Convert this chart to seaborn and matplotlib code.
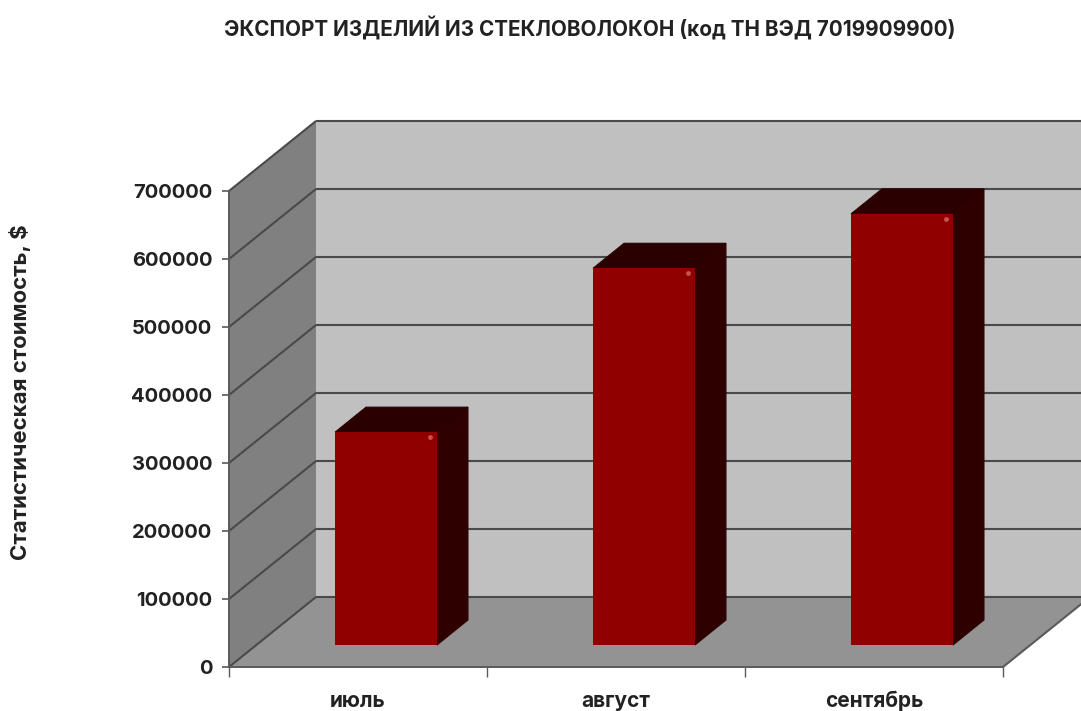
import matplotlib
matplotlib.use("Agg")
import matplotlib.pyplot as plt
from matplotlib.patches import Polygon
from matplotlib.transforms import Affine2D, IdentityTransform
import seaborn as sns
import pandas as pd

months = ["июль", "август", "сентябрь"]
values = [313000, 554000, 634000]
y_ticks = [0, 100000, 200000, 300000, 400000, 500000, 600000, 700000]
title_text = "ЭКСПОРТ ИЗДЕЛИЙ ИЗ СТЕКЛОВОЛОКОН (код ТН ВЭД 7019909900)"
y_title = "Статистическая стоимость, $"

W, H = 1081, 711
sns.set_theme(style="white")
plt.rcParams["font.family"] = ["Inter", "Liberation Sans", "DejaVu Sans"]
plt.rcParams["font.weight"] = "bold"

fig = plt.figure(figsize=(W / 100, H / 100), dpi=100, facecolor="white")
bg = fig.add_axes([0, 0, 1, 1], zorder=0)
bg.set_xlim(0, W); bg.set_ylim(H, 0); bg.axis("off")

L, R, B, T = 229, 1003, 667, 191
DX, DY = 87, 70
ax = fig.add_axes([L / W, 1 - B / H, (R - L) / W, (B - T) / H], zorder=1)
ax.patch.set_visible(False)

df = pd.DataFrame({"month": months, "value": values})
sns.barplot(data=df, x="month", y="value", color="#900000", saturation=1,
            width=0.395, ax=ax, zorder=3, linewidth=0, edgecolor="none")
ax.set_xlim(-0.5, 2.5)
ax.set_ylim(0, 700000)

# walls and floor
bg.add_patch(Polygon([(L + DX, T - DY), (W + 20, T - DY), (W + 20, B - DY), (L + DX, B - DY)], fc="#c0c0c0", ec="none"))
bg.add_patch(Polygon([(L, T), (L + DX, T - DY), (L + DX, B - DY), (L, B)], fc="#808080", ec="none"))
bg.add_patch(Polygon([(L, B), (R, B), (R + DX, B - DY), (L + DX, B - DY)], fc="#939393", ec="none"))
line = dict(color="#4a4a4a", lw=1.5, solid_capstyle="butt")
for v in y_ticks:
    py = H - ax.transData.transform((0, v))[1]
    bg.plot([L, L + DX], [py, py - DY], **line)
    bg.plot([L + DX, W + 20], [py - DY, py - DY], **line)
bg.plot([R, R + DX], [B, B - DY], color="#5a5a5a", lw=1.5)
bg.set_xlim(0, W); bg.set_ylim(H, 0)

# shift the bars into the depth of the floor, and add their 3D sides
bar_dx, bar_dy = 28, 22
depth_x, depth_y = 31, 25
shift = ax.transData + Affine2D().translate(bar_dx, bar_dy)
to_px = IdentityTransform()
for bar in list(ax.patches):
    x0, w, h = bar.get_x(), bar.get_width(), bar.get_height()
    (xa, ya), (xb, yb) = shift.transform([(x0, 0), (x0 + w, h)])
    bar.set_transform(shift)
    bar.set_clip_on(False)
    ax.add_artist(Polygon([(xb, ya), (xb + depth_x, ya + depth_y), (xb + depth_x, yb + depth_y), (xb, yb)],
                          fc="#2f0000", ec="#2f0000", lw=0.8, transform=to_px, clip_on=False, zorder=2))
    ax.add_artist(Polygon([(xa, yb), (xb, yb), (xb + depth_x, yb + depth_y), (xa + depth_x, yb + depth_y)],
                          fc="#2a0000", ec="#2a0000", lw=0.8, transform=to_px, clip_on=False, zorder=2))
    ax.plot([xb - 7], [yb - 5], marker="o", ms=3.5, color="#c85050", mew=0,
            transform=to_px, clip_on=False, zorder=4)

# axes
for s in ["top", "right"]:
    ax.spines[s].set_visible(False)
for s in ["left", "bottom"]:
    ax.spines[s].set_color("#5a5a5a")
    ax.spines[s].set_linewidth(1.4)
ax.set_yticks(y_ticks)
ax.set_yticklabels([str(v) for v in y_ticks], fontsize=14.5, fontweight="bold", color="#222222")
ax.tick_params(axis="y", length=5, width=1.2, color="#5a5a5a", pad=7, left=True)
ax.set_xticks(range(3))
ax.set_xticklabels(months, fontsize=15, fontweight="bold", color="#222222")
ax.tick_params(axis="x", which="major", length=0, pad=17)
ax.set_xticks([-0.5, 0.5, 1.5, 2.5], minor=True)
ax.tick_params(axis="x", which="minor", length=7, width=1.0, color="#5a5a5a", bottom=True)
ax.set_xlabel(""); ax.set_ylabel("")

fig.text(590 / W, 1 - 28 / H, title_text, ha="center", va="center", fontsize=14.9, fontweight="bold", color="#222222")
fig.text(20 / W, 1 - 392 / H, y_title, ha="center", va="center", rotation=90, fontsize=16, fontweight="bold", color="#222222")

fig.savefig("out.png", dpi=100)
